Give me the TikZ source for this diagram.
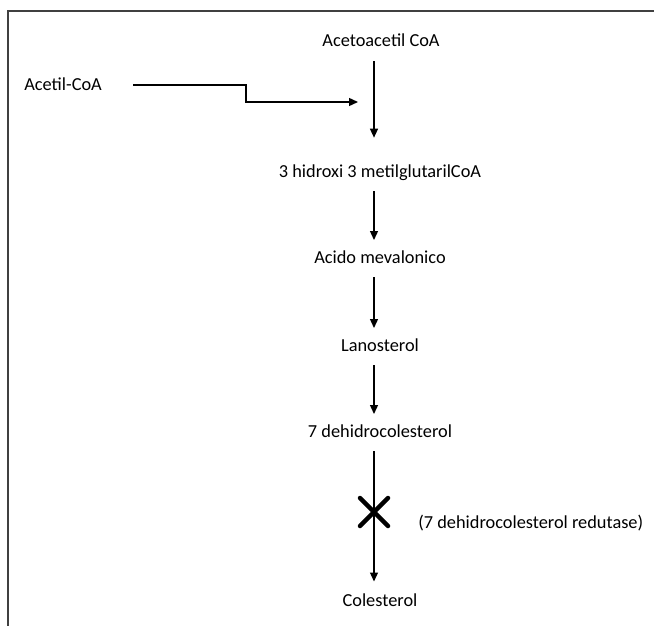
\documentclass[tikz,border=0pt]{standalone}
\usepackage{fontspec}
\setmainfont{Carlito}
\usetikzlibrary{arrows.meta}
\begin{document}
\begin{tikzpicture}[x=0.6pt,y=-0.6pt,
  lbl/.style={font=\fontsize{11}{13}\selectfont, inner sep=0pt, text height=7pt, text depth=0pt, anchor=base},
  arr/.style={line width=0.8pt, -{Triangle[length=5.4pt,width=4.8pt]}},
  frame/.style={line width=1.2pt, black!75},
  blockx/.style={line width=2.7pt, line cap=round}]
\useasboundingbox (0,0) rectangle (654,626);
\draw[frame] (654,11) -- (8,11) -- (8,626);
\coordinate (col) at (374,0);
\coordinate (jy) at (0,102);
\node[lbl] (aca) at (381,47) {Acetoacetil CoA};
\node[lbl, anchor=base west] (acetil) at (24,91) {Acetil-CoA};
\node[lbl] (hid) at (380,177) {3 hidroxi 3 metilglutarilCoA};
\node[lbl] (aci) at (380,263) {Acido mevalonico};
\node[lbl] (lan) at (380,351) {Lanosterol};
\node[lbl] (dhc) at (380,437) {7 dehidrocolesterol};
\node[lbl] (col2) at (380,606) {Colesterol};
\node[lbl, anchor=base west] (enz) at (418,528) {(7 dehidrocolesterol redutase)};
\draw[arr, shorten <=18.6pt, shorten >=9.6pt] (acetil.east) -- ++(144,0) |- (col |- jy);
\draw[arr, shorten <=8.4pt, shorten >=16.4pt] (aca.south -| col) -- (hid.north -| col);
\draw[arr, shorten <=8.4pt, shorten >=6.6pt] (hid.south -| col) -- (aci.north -| col);
\draw[arr, shorten <=8.4pt, shorten >=6.6pt] (aci.south -| col) -- (lan.north -| col);
\draw[arr, shorten <=8.4pt, shorten >=6.6pt] (lan.south -| col) -- (dhc.north -| col);
\draw[arr, shorten <=8.4pt, shorten >=7.5pt] (dhc.south -| col) -- (col2.north -| col);
\coordinate (blk) at (374,512);
\draw[blockx] ([shift={(-14,-14)}]blk) -- ([shift={(14,14)}]blk)
              ([shift={(-14,14)}]blk) -- ([shift={(14,-14)}]blk);
\end{tikzpicture}
\end{document}
